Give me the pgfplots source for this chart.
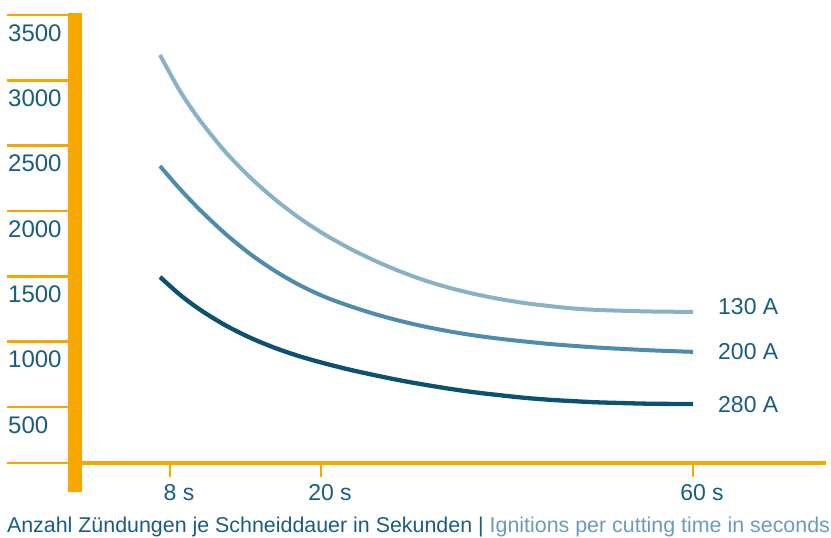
\documentclass[border=0pt]{standalone}
\usepackage{pgfplots}
\pgfplotsset{compat=1.18}
\usepackage{fontspec}
\setmainfont{Liberation Sans}
\definecolor{orng}{HTML}{F7A800}
\definecolor{labelblue}{HTML}{1A5D7C}
\definecolor{lightblue}{HTML}{6B9CB7}
\definecolor{cA}{HTML}{8BB1C7}
\definecolor{cB}{HTML}{4F8BAA}
\definecolor{cC}{HTML}{0D5170}
\begin{document}
\begin{tikzpicture}
\begin{axis}[
  scale only axis, width=831pt, height=463pt,
  xmin=0, xmax=831, ymin=71.4, ymax=3614.8,
  axis line style={draw=none}, tick style={draw=none}, major tick length=0pt,
  xtick={170,321,693}, xticklabels={8 s,20 s,60 s},
  ytick={500,1000,1500,2000,2500,3000,3500},
  yticklabels={500,1000,1500,2000,2500,3000,3500},
  yticklabel style={anchor=west, inner sep=0pt, xshift=8pt, yshift=-18pt,
    font=\fontsize{24}{28}\selectfont, text=labelblue},
  xticklabel style={anchor=north, inner sep=0pt, yshift=-21pt, xshift=9pt,
    font=\fontsize{23}{27}\selectfont, text=labelblue},
  clip=false,
]
% orange axis decoration
\draw[orng, line width=13.5pt] (axis cs:75,3515.3) -- (axis cs:75,-150.5);
\pgfplotsinvokeforeach{3500,3000,2500,2000,1500,1000,500,71.4}{
  \draw[orng, line width=2.7pt] (axis cs:7,#1) -- (axis cs:69,#1);
}
\draw[orng, line width=4pt] (axis cs:82,71.4) -- (axis cs:826,71.4);
\pgfplotsinvokeforeach{170,321,693}{
  \draw[orng, line width=2pt] (axis cs:#1,71.4) -- (axis cs:#1,-35.7);
}
% 130 A
\addplot[cA, line width=4pt, smooth] coordinates {
(160,3194) (180,2918) (200,2693) (225,2456) (250,2258) (275,2089) (300,1943)
(325,1819) (350,1712) (375,1619) (400,1538) (425,1468) (450,1411) (475,1364)
(500,1326) (525,1295) (550,1272) (575,1253) (600,1242) (650,1231) (693,1228)};
% 200 A
\addplot[cB, line width=4pt, smooth] coordinates {
(160,2344) (180,2168) (200,2008) (225,1828) (250,1672) (275,1541) (300,1431)
(325,1342) (350,1272) (375,1211) (400,1159) (425,1115) (450,1078) (475,1047)
(500,1022) (525,1001) (550,982) (575,967) (600,954) (650,934) (693,922)};
% 280 A
\addplot[cC, line width=4.3pt, smooth] coordinates {
(160,1495) (180,1359) (200,1245) (225,1127) (250,1031) (275,952) (300,887)
(325,833) (350,785) (375,743) (400,704) (425,670) (450,639) (475,612)
(500,590) (525,570) (550,555) (575,544) (600,535) (650,525) (693,523)};
\node[anchor=west, inner sep=0pt, text=labelblue, font=\fontsize{23}{27}\selectfont] at (axis cs:718,1265) {130 A};
\node[anchor=west, inner sep=0pt, text=labelblue, font=\fontsize{23}{27}\selectfont] at (axis cs:718,921) {200 A};
\node[anchor=west, inner sep=0pt, text=labelblue, font=\fontsize{23}{27}\selectfont] at (axis cs:718,515) {280 A};
\node[anchor=center, inner sep=0pt, font=\fontsize{21.4}{25}\selectfont] at (axis cs:418.5,-418)
  {\textcolor{labelblue}{Anzahl Zündungen je Schneiddauer in Sekunden |} \textcolor{lightblue}{Ignitions per cutting time in seconds}};
\end{axis}
\pgfresetboundingbox
\path (0,-75pt) rectangle (831pt,463pt);
\end{tikzpicture}
\end{document}
